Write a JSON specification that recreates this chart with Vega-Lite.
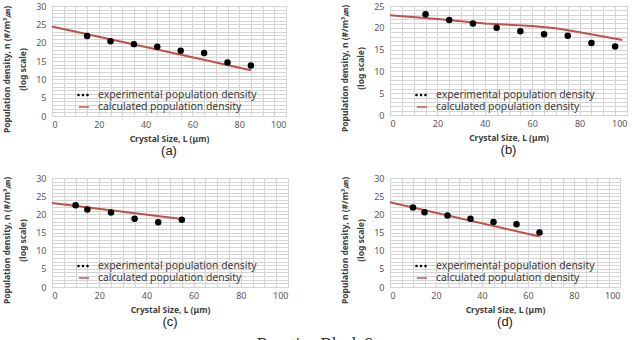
{
  "$schema": "https://vega.github.io/schema/vega-lite/v6.json",
  "background": "white",
  "padding": {"left": 2, "top": 1, "right": 0, "bottom": 0},
  "datasets": {
    "exp": [
      {"panel": "a", "L": 15, "n": 21.8}, {"panel": "a", "L": 25, "n": 20.4}, {"panel": "a", "L": 35, "n": 19.6}, {"panel": "a", "L": 45, "n": 18.9},
      {"panel": "a", "L": 55, "n": 17.8}, {"panel": "a", "L": 65, "n": 17.2}, {"panel": "a", "L": 75, "n": 14.6}, {"panel": "a", "L": 85, "n": 13.8},
      {"panel": "b", "L": 15, "n": 23.1}, {"panel": "b", "L": 25, "n": 21.8}, {"panel": "b", "L": 35, "n": 21.0}, {"panel": "b", "L": 45, "n": 20.0},
      {"panel": "b", "L": 55, "n": 19.2}, {"panel": "b", "L": 65, "n": 18.5}, {"panel": "b", "L": 75, "n": 18.2}, {"panel": "b", "L": 85, "n": 16.5}, {"panel": "b", "L": 95, "n": 15.7},
      {"panel": "c", "L": 10, "n": 22.5}, {"panel": "c", "L": 15, "n": 21.3}, {"panel": "c", "L": 25, "n": 20.5}, {"panel": "c", "L": 35, "n": 18.8},
      {"panel": "c", "L": 45, "n": 17.8}, {"panel": "c", "L": 55, "n": 18.5},
      {"panel": "d", "L": 10, "n": 21.9}, {"panel": "d", "L": 15, "n": 20.6}, {"panel": "d", "L": 25, "n": 19.7}, {"panel": "d", "L": 35, "n": 18.8},
      {"panel": "d", "L": 45, "n": 17.9}, {"panel": "d", "L": 55, "n": 17.3}, {"panel": "d", "L": 65, "n": 15.0}
    ],
    "calc": [
      {"panel": "a", "L": 0, "n": 24.4}, {"panel": "a", "L": 20, "n": 21.6}, {"panel": "a", "L": 40, "n": 18.8}, {"panel": "a", "L": 60, "n": 16.0}, {"panel": "a", "L": 85, "n": 12.5},
      {"panel": "b", "L": 0, "n": 22.9}, {"panel": "b", "L": 20, "n": 22.0}, {"panel": "b", "L": 40, "n": 21.0}, {"panel": "b", "L": 60, "n": 20.4},
      {"panel": "b", "L": 70, "n": 19.9}, {"panel": "b", "L": 80, "n": 19.0}, {"panel": "b", "L": 90, "n": 18.0}, {"panel": "b", "L": 98, "n": 17.2},
      {"panel": "c", "L": 0, "n": 23.1}, {"panel": "c", "L": 55, "n": 18.7},
      {"panel": "d", "L": 0, "n": 23.3}, {"panel": "d", "L": 65, "n": 13.9}
    ],
    "legendKeys": []
  },
  "title": {"text": "Reactive Black 8", "orient": "bottom", "font": "Liberation Serif", "fontSize": 17, "fontWeight": "normal", "color": "#222222", "offset": 7, "anchor": "middle"},
  "columns": 2,
  "bounds": "flush",
  "align": "all",
  "spacing": {"row": 62, "column": 101},
  "resolve": {"scale": {"color": "independent", "shape": "independent"}},
  "concat": [
    {
      "width": 234, "height": 110,
      "title": {"text": "(a)", "orient": "bottom", "font": "Liberation Sans", "fontSize": 13, "fontWeight": "normal", "color": "#222222", "offset": 2},
      "layer": [
        {
          "data": {"name": "calc"}, "transform": [{"filter": "datum.panel === 'a'"}],
          "mark": {"type": "line", "color": "#c0504d", "strokeWidth": 2},
          "encoding": {
            "x": {"field": "L", "type": "quantitative", "scale": {"domain": [0, 100], "nice": false},
                  "axis": {"values": [0,5,10,15,20,25,30,35,40,45,50,55,60,65,70,75,80,85,90,95,100], "tickCount": 200, "format": "d", "labelExpr": "datum.value % 20 === 0 ? datum.label : ''", "title": "Crystal Size, L (μm)"}},
            "y": {"field": "n", "type": "quantitative", "scale": {"domain": [0, 30], "nice": false},
                  "axis": {"values": [0,1,2,3,4,5,6,7,8,9,10,11,12,13,14,15,16,17,18,19,20,21,22,23,24,25,26,27,28,29,30], "tickCount": 200, "format": "d", "labelExpr": "datum.value % 5 === 0 ? datum.label : ''", "title": ["Population density,  n (#/m³㎛)", "(log scale)"], "titleY": 63}}
          }
        },
        {
          "data": {"name": "exp"}, "transform": [{"filter": "datum.panel === 'a'"}],
          "mark": {"type": "point", "filled": true, "color": "black", "size": 42, "opacity": 1},
          "encoding": {"x": {"field": "L", "type": "quantitative"}, "y": {"field": "n", "type": "quantitative"}}
        },
        {
          "data": {"name": "legendKeys"},
          "mark": {"type": "point", "filled": true, "size": 144, "opacity": 1},
          "encoding": {
            "x": {"field": "L", "type": "quantitative"}, "y": {"field": "n", "type": "quantitative"},
            "color": {"field": "series", "type": "nominal", "scale": {"domain": ["experimental population density", "calculated population density"], "range": ["#000000", "#c0504d"]}, "legend": {"orient": "none", "legendX": 25, "legendY": 83}},
            "shape": {"field": "series", "type": "nominal", "scale": {"domain": ["experimental population density", "calculated population density"], "range": ["M-0.97,0a0.22,0.22 0 1,0 0.44,0a0.22,0.22 0 1,0 -0.44,0Z M-0.22,0a0.22,0.22 0 1,0 0.44,0a0.22,0.22 0 1,0 -0.44,0Z M0.53,0a0.22,0.22 0 1,0 0.44,0a0.22,0.22 0 1,0 -0.44,0Z", "M-0.7,-0.12L1,-0.12L1,0.12L-0.7,0.12Z"]}}
          }
        }
      ]
    },
    {
      "width": 237, "height": 109,
      "title": {"text": "(b)", "orient": "bottom", "font": "Liberation Sans", "fontSize": 13, "fontWeight": "normal", "color": "#222222", "offset": 2},
      "layer": [
        {
          "data": {"name": "calc"}, "transform": [{"filter": "datum.panel === 'b'"}],
          "mark": {"type": "line", "color": "#c0504d", "strokeWidth": 2},
          "encoding": {
            "x": {"field": "L", "type": "quantitative", "scale": {"domain": [0, 100], "nice": false},
                  "axis": {"values": [0,5,10,15,20,25,30,35,40,45,50,55,60,65,70,75,80,85,90,95,100], "tickCount": 200, "format": "d", "labelExpr": "datum.value % 20 === 0 ? datum.label : ''", "title": "Crystal Size, L (μm)"}},
            "y": {"field": "n", "type": "quantitative", "scale": {"domain": [0, 25], "nice": false},
                  "axis": {"values": [0,1,2,3,4,5,6,7,8,9,10,11,12,13,14,15,16,17,18,19,20,21,22,23,24,25], "tickCount": 200, "format": "d", "labelExpr": "datum.value % 5 === 0 ? datum.label : ''", "title": ["Population density,  n (#/m³㎛)", "(log scale)"], "titleY": 62}}
          }
        },
        {
          "data": {"name": "exp"}, "transform": [{"filter": "datum.panel === 'b'"}],
          "mark": {"type": "point", "filled": true, "color": "black", "size": 42, "opacity": 1},
          "encoding": {"x": {"field": "L", "type": "quantitative"}, "y": {"field": "n", "type": "quantitative"}}
        },
        {
          "data": {"name": "legendKeys"},
          "mark": {"type": "point", "filled": true, "size": 144, "opacity": 1},
          "encoding": {
            "x": {"field": "L", "type": "quantitative"}, "y": {"field": "n", "type": "quantitative"},
            "color": {"field": "series", "type": "nominal", "scale": {"domain": ["experimental population density", "calculated population density"], "range": ["#000000", "#c0504d"]}, "legend": {"orient": "none", "legendX": 25, "legendY": 83}},
            "shape": {"field": "series", "type": "nominal", "scale": {"domain": ["experimental population density", "calculated population density"], "range": ["M-0.97,0a0.22,0.22 0 1,0 0.44,0a0.22,0.22 0 1,0 -0.44,0Z M-0.22,0a0.22,0.22 0 1,0 0.44,0a0.22,0.22 0 1,0 -0.44,0Z M0.53,0a0.22,0.22 0 1,0 0.44,0a0.22,0.22 0 1,0 -0.44,0Z", "M-0.7,-0.12L1,-0.12L1,0.12L-0.7,0.12Z"]}}
          }
        }
      ]
    },
    {
      "width": 236, "height": 109,
      "title": {"text": "(c)", "orient": "bottom", "font": "Liberation Sans", "fontSize": 13, "fontWeight": "normal", "color": "#222222", "offset": 2},
      "layer": [
        {
          "data": {"name": "calc"}, "transform": [{"filter": "datum.panel === 'c'"}],
          "mark": {"type": "line", "color": "#c0504d", "strokeWidth": 2},
          "encoding": {
            "x": {"field": "L", "type": "quantitative", "scale": {"domain": [0, 100], "nice": false},
                  "axis": {"values": [0,5,10,15,20,25,30,35,40,45,50,55,60,65,70,75,80,85,90,95,100], "tickCount": 200, "format": "d", "labelExpr": "datum.value % 20 === 0 ? datum.label : ''", "title": "Crystal Size, L (μm)"}},
            "y": {"field": "n", "type": "quantitative", "scale": {"domain": [0, 30], "nice": false},
                  "axis": {"values": [0,1,2,3,4,5,6,7,8,9,10,11,12,13,14,15,16,17,18,19,20,21,22,23,24,25,26,27,28,29,30], "tickCount": 200, "format": "d", "labelExpr": "datum.value % 5 === 0 ? datum.label : ''", "title": ["Population density,  n (#/m³㎛)", "(log scale)"], "titleY": 62}}
          }
        },
        {
          "data": {"name": "exp"}, "transform": [{"filter": "datum.panel === 'c'"}],
          "mark": {"type": "point", "filled": true, "color": "black", "size": 42, "opacity": 1},
          "encoding": {"x": {"field": "L", "type": "quantitative"}, "y": {"field": "n", "type": "quantitative"}}
        },
        {
          "data": {"name": "legendKeys"},
          "mark": {"type": "point", "filled": true, "size": 144, "opacity": 1},
          "encoding": {
            "x": {"field": "L", "type": "quantitative"}, "y": {"field": "n", "type": "quantitative"},
            "color": {"field": "series", "type": "nominal", "scale": {"domain": ["experimental population density", "calculated population density"], "range": ["#000000", "#c0504d"]}, "legend": {"orient": "none", "legendX": 25, "legendY": 82}},
            "shape": {"field": "series", "type": "nominal", "scale": {"domain": ["experimental population density", "calculated population density"], "range": ["M-0.97,0a0.22,0.22 0 1,0 0.44,0a0.22,0.22 0 1,0 -0.44,0Z M-0.22,0a0.22,0.22 0 1,0 0.44,0a0.22,0.22 0 1,0 -0.44,0Z M0.53,0a0.22,0.22 0 1,0 0.44,0a0.22,0.22 0 1,0 -0.44,0Z", "M-0.7,-0.12L1,-0.12L1,0.12L-0.7,0.12Z"]}}
          }
        }
      ]
    },
    {
      "width": 230, "height": 109,
      "title": {"text": "(d)", "orient": "bottom", "font": "Liberation Sans", "fontSize": 13, "fontWeight": "normal", "color": "#222222", "offset": 2},
      "layer": [
        {
          "data": {"name": "calc"}, "transform": [{"filter": "datum.panel === 'd'"}],
          "mark": {"type": "line", "color": "#c0504d", "strokeWidth": 2},
          "encoding": {
            "x": {"field": "L", "type": "quantitative", "scale": {"domain": [0, 100], "nice": false},
                  "axis": {"values": [0,5,10,15,20,25,30,35,40,45,50,55,60,65,70,75,80,85,90,95,100], "tickCount": 200, "format": "d", "labelExpr": "datum.value % 20 === 0 ? datum.label : ''", "title": "Crystal Size, L (μm)"}},
            "y": {"field": "n", "type": "quantitative", "scale": {"domain": [0, 30], "nice": false},
                  "axis": {"values": [0,1,2,3,4,5,6,7,8,9,10,11,12,13,14,15,16,17,18,19,20,21,22,23,24,25,26,27,28,29,30], "tickCount": 200, "format": "d", "labelExpr": "datum.value % 5 === 0 ? datum.label : ''", "title": ["Population density,  n (#/m³㎛)", "(log scale)"], "titleY": 62}}
          }
        },
        {
          "data": {"name": "exp"}, "transform": [{"filter": "datum.panel === 'd'"}],
          "mark": {"type": "point", "filled": true, "color": "black", "size": 42, "opacity": 1},
          "encoding": {"x": {"field": "L", "type": "quantitative"}, "y": {"field": "n", "type": "quantitative"}}
        },
        {
          "data": {"name": "legendKeys"},
          "mark": {"type": "point", "filled": true, "size": 144, "opacity": 1},
          "encoding": {
            "x": {"field": "L", "type": "quantitative"}, "y": {"field": "n", "type": "quantitative"},
            "color": {"field": "series", "type": "nominal", "scale": {"domain": ["experimental population density", "calculated population density"], "range": ["#000000", "#c0504d"]}, "legend": {"orient": "none", "legendX": 25, "legendY": 82}},
            "shape": {"field": "series", "type": "nominal", "scale": {"domain": ["experimental population density", "calculated population density"], "range": ["M-0.97,0a0.22,0.22 0 1,0 0.44,0a0.22,0.22 0 1,0 -0.44,0Z M-0.22,0a0.22,0.22 0 1,0 0.44,0a0.22,0.22 0 1,0 -0.44,0Z M0.53,0a0.22,0.22 0 1,0 0.44,0a0.22,0.22 0 1,0 -0.44,0Z", "M-0.7,-0.12L1,-0.12L1,0.12L-0.7,0.12Z"]}}
          }
        }
      ]
    }
  ],
  "config": {
    "font": "Noto Sans",
    "view": {"stroke": "#bdbdbd", "strokeWidth": 1},
    "axis": {"domain": false, "ticks": false, "grid": true, "gridColor": "#d4d4d4", "gridWidth": 1, "labelColor": "#595959", "labelFontSize": 9, "labelFont": "Noto Sans", "titleFont": "Noto Sans", "titleFontSize": 8.5, "titleFontWeight": "bold", "titleColor": "#404040", "labelOverlap": false, "labelPadding": 6},
    "axisX": {"titlePadding": 5, "labelPadding": 4},
    "axisY": {"titlePadding": 8, "titleLineHeight": 16},
    "legend": {"title": null, "labelFont": "Noto Sans", "labelFontSize": 10.4, "labelColor": "#3a3a3a", "symbolSize": 144, "rowPadding": -1, "labelOffset": 9, "padding": 0, "symbolStrokeWidth": 0}
  }
}
